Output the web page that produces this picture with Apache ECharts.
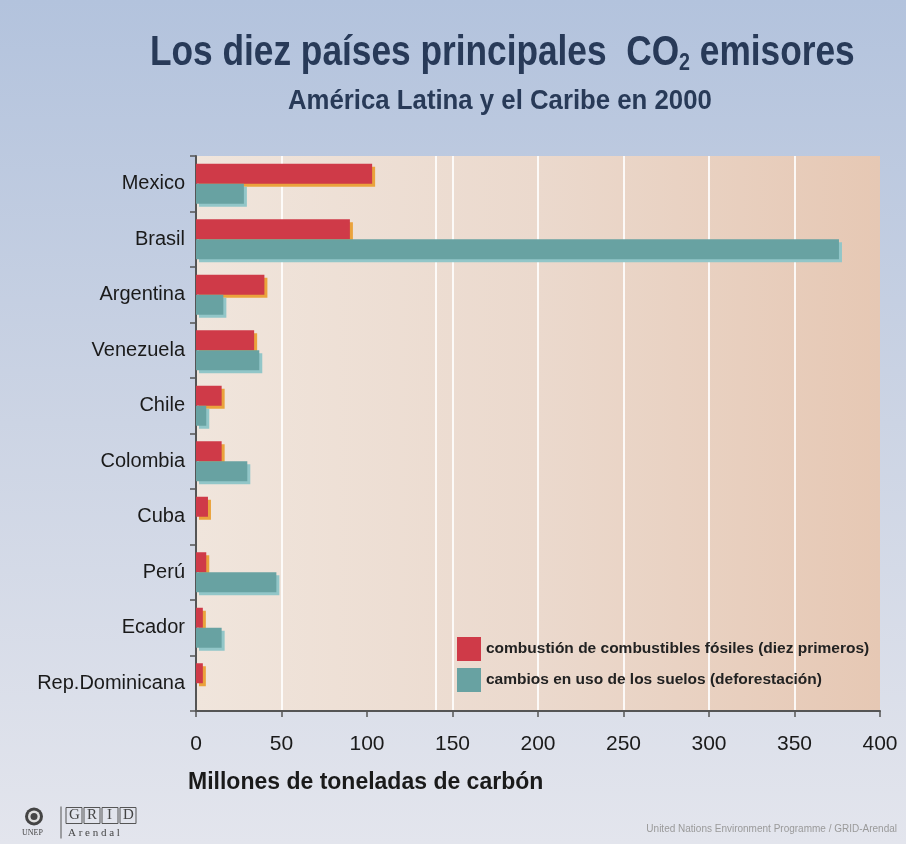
<!DOCTYPE html>
<html>
<head>
<meta charset="utf-8">
<script src="https://cdn.jsdelivr.net/npm/echarts@6/dist/echarts.min.js"></script>
<style>
html,body{margin:0;padding:0;}
#c{width:906px;height:844px;}
</style>
</head>
<body>
<div id="c"></div>
<script>
var categories = ['Mexico','Brasil','Argentina','Venezuela','Chile','Colombia','Cuba','Perú','Ecador','Rep.Dominicana'];
var fossilValues = [103, 90, 40, 34, 15, 15, 7, 6, 4, 4];
var landValues = [28, 376, 16, 37, 6, 30, 0, 47, 15, 0];
var xTicks = [0, 50, 100, 150, 200, 250, 300, 350, 400];
var gridValues = [50, 140, 150, 200, 250, 300, 350];
var seriesNames = ['combustión de combustibles fósiles (diez primeros)', 'cambios en uso de los suelos (deforestación)'];

var chart = echarts.init(document.getElementById('c'));
var FONT = '"Liberation Sans", Arial, sans-serif';

var option = {
  animation: false,
  backgroundColor: {
    type: 'linear', x: 0, y: 0, x2: 0, y2: 1,
    colorStops: [{offset: 0, color: '#b3c3dd'}, {offset: 0.5, color: '#ccd4e4'}, {offset: 1, color: '#e3e5ed'}]
  },
  grid: {
    left: 196, right: 26, top: 156, bottom: 133,
    show: true, borderWidth: 0,
    backgroundColor: {
      type: 'linear', x: 0, y: 0, x2: 1, y2: 0,
      colorStops: [{offset: 0, color: '#f0e5dc'}, {offset: 0.5, color: '#ebd9cd'}, {offset: 1, color: '#e6c8b4'}]
    }
  },
  legend: {
    data: seriesNames,
    orient: 'vertical',
    left: 452, top: 632,
    itemWidth: 24, itemHeight: 24, itemGap: 7,
    icon: 'rect',
    textStyle: {fontFamily: FONT, fontWeight: 'bold', fontSize: 15.5, color: '#222'}
  },
  xAxis: {
    type: 'value', min: 0, max: 400, interval: 50,
    axisLine: {show: true, lineStyle: {color: '#555', width: 2}},
    axisTick: {show: true, length: 6, lineStyle: {color: '#555', width: 1.5}},
    splitLine: {show: false},
    axisLabel: {
      fontFamily: FONT, fontSize: 21, color: '#1a1a1a', margin: 23,
      formatter: function (v) { return xTicks.indexOf(v) >= 0 ? String(v) : ''; }
    }
  },
  yAxis: {
    type: 'category', data: categories, inverse: true,
    axisLine: {show: true, lineStyle: {color: '#555', width: 2}},
    axisTick: {show: true, length: 6, lineStyle: {color: '#555', width: 1.5}},
    axisLabel: {fontFamily: FONT, fontSize: 20, color: '#1a1a1a', margin: 11}
  },
  series: [
    {
      name: seriesNames[0], type: 'bar', data: fossilValues,
      barWidth: 20, barGap: '0%',
      itemStyle: {color: '#cf3a48', shadowColor: '#eaa33c', shadowOffsetX: 3, shadowOffsetY: 3, shadowBlur: 0},
      markLine: {
        silent: true, symbol: 'none', label: {show: false},
        lineStyle: {color: 'rgba(255,255,255,0.85)', width: 2, type: 'solid'},
        data: gridValues.map(function (v) { return {xAxis: v}; }),
        z: 0
      },
      z: 3
    },
    {
      name: seriesNames[1], type: 'bar', data: landValues,
      barWidth: 20,
      itemStyle: {color: '#68a2a2', shadowColor: '#92c6c8', shadowOffsetX: 3, shadowOffsetY: 3, shadowBlur: 0},
      z: 3
    }
  ],
  graphic: [
    {
      type: 'text', x: 150, y: 32, scaleX: 0.82,
      style: {
        text: '{t|Los diez países principales  CO}{s|2}{t| emisores}',
        rich: {
          t: {fontFamily: FONT, fontWeight: 'bold', fontSize: 43, fill: '#283a58', verticalAlign: 'bottom'},
          s: {fontFamily: FONT, fontWeight: 'bold', fontSize: 24, fill: '#283a58', verticalAlign: 'bottom'}
        }
      }
    },
    {
      type: 'text', x: 288, y: 87, scaleX: 0.92,
      style: {text: 'América Latina y el Caribe en 2000', fontFamily: FONT, fontWeight: 'bold', fontSize: 28, fill: '#283a58'}
    },
    {
      type: 'text', left: 188, top: 771,
      style: {text: 'Millones de toneladas de carbón', fontFamily: FONT, fontWeight: 'bold', fontSize: 23, fill: '#1a1a1a'}
    },
    {
      type: 'text', right: 9, top: 824,
      style: {text: 'United Nations Environment Programme / GRID-Arendal', fontFamily: FONT, fontSize: 10, fill: '#9a9a9a'}
    },
    {
      type: 'group', left: 22, top: 804,
      children: [
        {type: 'circle', shape: {cx: 12, cy: 10, r: 9}, style: {fill: '#444'}},
        {type: 'circle', shape: {cx: 12, cy: 10, r: 6}, style: {fill: '#ddd'}},
        {type: 'circle', shape: {cx: 12, cy: 10, r: 3.5}, style: {fill: '#444'}},
        {type: 'text', x: 0, y: 22, style: {text: 'UNEP', fontFamily: '"Liberation Serif", serif', fontSize: 8, fill: '#444'}},
        {type: 'line', shape: {x1: 39, y1: 0, x2: 39, y2: 32}, style: {stroke: '#555', lineWidth: 1}},
        {type: 'rect', shape: {x: 44, y: 1, width: 16, height: 16}, style: {fill: 'none', stroke: '#555', lineWidth: 1}},
        {type: 'rect', shape: {x: 62, y: 1, width: 16, height: 16}, style: {fill: 'none', stroke: '#555', lineWidth: 1}},
        {type: 'rect', shape: {x: 80, y: 1, width: 16, height: 16}, style: {fill: 'none', stroke: '#555', lineWidth: 1}},
        {type: 'rect', shape: {x: 98, y: 1, width: 16, height: 16}, style: {fill: 'none', stroke: '#555', lineWidth: 1}},
        {type: 'text', x: 47, y: 1, style: {text: 'G', fontFamily: '"Liberation Serif", serif', fontSize: 15, fill: '#444'}},
        {type: 'text', x: 65, y: 1, style: {text: 'R', fontFamily: '"Liberation Serif", serif', fontSize: 15, fill: '#444'}},
        {type: 'text', x: 85, y: 1, style: {text: 'I', fontFamily: '"Liberation Serif", serif', fontSize: 15, fill: '#444'}},
        {type: 'text', x: 101, y: 1, style: {text: 'D', fontFamily: '"Liberation Serif", serif', fontSize: 15, fill: '#444'}},
        {type: 'text', x: 46, y: 21, style: {text: 'A r e n d a l', fontFamily: '"Liberation Serif", serif', fontSize: 11, fill: '#444'}}
      ]
    }
  ]
};
chart.setOption(option);
</script>
</body>
</html>
